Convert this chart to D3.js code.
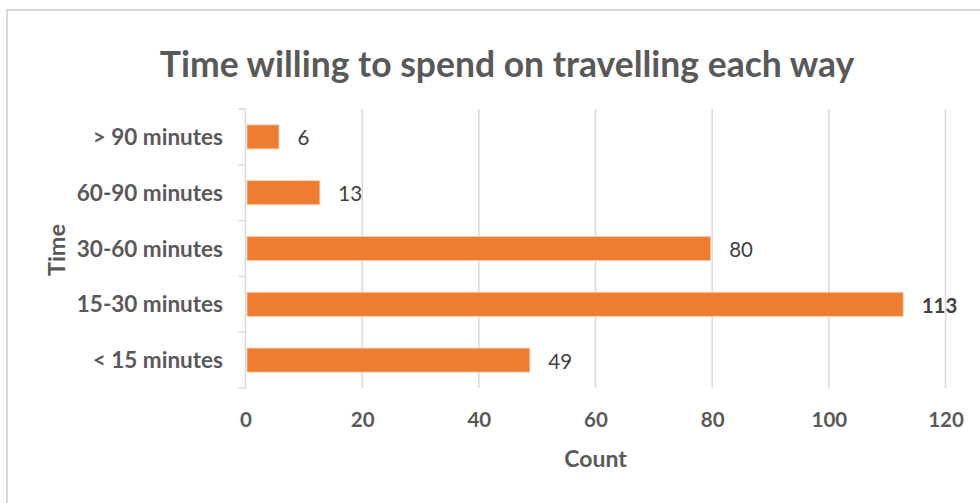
<!DOCTYPE html>
<html>
<head>
<meta charset="utf-8">
<script src="https://cdn.jsdelivr.net/npm/d3@7"></script>
<style>
  html, body { margin: 0; padding: 0; background: #fff; }
  svg { display: block; font-family: Lato, "Open Sans", sans-serif; }
</style>
</head>
<body>
<svg id="chart" width="980" height="503"></svg>
<script>
// Survey answers: how long people are willing to travel each way
const categories = ["> 90 minutes", "60-90 minutes", "30-60 minutes", "15-30 minutes", "< 15 minutes"];
const counts = [6, 13, 80, 113, 49];
const xTicks = [0, 20, 40, 60, 80, 100, 120];
const chartTitle = "Time willing to spend on travelling each way";
const xTitle = "Count";
const yTitle = "Time";

const svg = d3.select("#chart");
const plot = { left: 245.5, right: 945.5, top: 109, bottom: 388 };
const gridColor = "#d9d9d9";
const textColor = "#595959";

const x = d3.scaleLinear().domain([0, 120]).range([plot.left, plot.right]);
const y = d3.scaleBand().domain(categories).range([plot.top, plot.bottom])
  .paddingInner(0.57).paddingOuter(0.285);

// chart frame (top and left edges)
svg.append("line").attr("x1", 6).attr("x2", 980).attr("y1", 10).attr("y2", 10)
  .attr("stroke", gridColor).attr("stroke-width", 2);
svg.append("line").attr("x1", 7).attr("x2", 7).attr("y1", 10).attr("y2", 503)
  .attr("stroke", gridColor).attr("stroke-width", 2);

// vertical gridlines
svg.append("g").selectAll("line").data(xTicks.slice(1)).join("line")
  .attr("x1", d => x(d)).attr("x2", d => x(d))
  .attr("y1", plot.top).attr("y2", plot.bottom)
  .attr("stroke", gridColor).attr("stroke-width", 1.5);

// category axis line with boundary ticks
const yAxis = d3.axisLeft(y).tickSize(0).tickFormat("");
const gy = svg.append("g").attr("transform", `translate(${plot.left},0)`).call(yAxis);
gy.select(".domain").remove();
gy.append("line").attr("x1", 0).attr("x2", 0).attr("y1", plot.top).attr("y2", plot.bottom)
  .attr("stroke", gridColor).attr("stroke-width", 1.5);
const step = y.step();
const bounds = d3.range(categories.length + 1).map(i => plot.top + i * step);
gy.selectAll(".bound").data(bounds).join("line").attr("class", "bound")
  .attr("x1", -7).attr("x2", 0).attr("y1", d => d).attr("y2", d => d)
  .attr("stroke", gridColor).attr("stroke-width", 1.5);

// category labels
svg.append("g").selectAll("text").data(categories).join("text")
  .attr("x", 223).attr("y", d => y(d) + y.bandwidth() / 2 + 8)
  .attr("text-anchor", "end").attr("font-size", 22.5).attr("font-weight", 700)
  .attr("fill", textColor).text(d => d);

// count axis labels
const xAxis = d3.axisBottom(x).tickValues(xTicks).tickSize(0).tickFormat(d3.format("d"));
const gx = svg.append("g").attr("transform", `translate(0,${plot.bottom})`).call(xAxis);
gx.select(".domain").remove();
gx.selectAll("text").attr("dy", null).attr("y", 39)
  .attr("font-size", 20.5).attr("font-weight", 700).attr("fill", textColor)
  .attr("font-family", "Lato, 'Open Sans', sans-serif");

// bars
const data = categories.map((c, i) => ({ cat: c, value: counts[i] }));
svg.append("g").selectAll("rect").data(data).join("rect")
  .attr("x", x(0) + 1.5).attr("y", d => y(d.cat))
  .attr("width", d => x(d.value) - x(0) - 3).attr("height", y.bandwidth())
  .attr("fill", "#ED7D31").attr("stroke", "#f8cbad").attr("stroke-width", 0.8);

// value labels; the largest one is emphasised
const maxVal = d3.max(counts);
svg.append("g").selectAll("text").data(data).join("text")
  .attr("x", d => x(d.value) + 17).attr("y", d => y(d.cat) + y.bandwidth() / 2 + 8.5)
  .attr("font-size", 20.5)
  .attr("font-weight", d => d.value === maxVal ? 700 : 400)
  .attr("fill", "#404040").text(d => d.value);

// titles
svg.append("text").attr("x", 507).attr("y", 77).attr("text-anchor", "middle")
  .attr("font-size", 35.5).attr("font-weight", 700).attr("fill", textColor).text(chartTitle);
svg.append("text").attr("x", (plot.left + plot.right) / 2).attr("y", 467).attr("text-anchor", "middle")
  .attr("font-size", 23).attr("font-weight", 700).attr("fill", textColor).text(xTitle);
svg.append("text").attr("transform", "translate(65,250) rotate(-90)").attr("text-anchor", "middle")
  .attr("font-size", 23.5).attr("font-weight", 700).attr("fill", textColor).text(yTitle);
</script>
</body>
</html>
